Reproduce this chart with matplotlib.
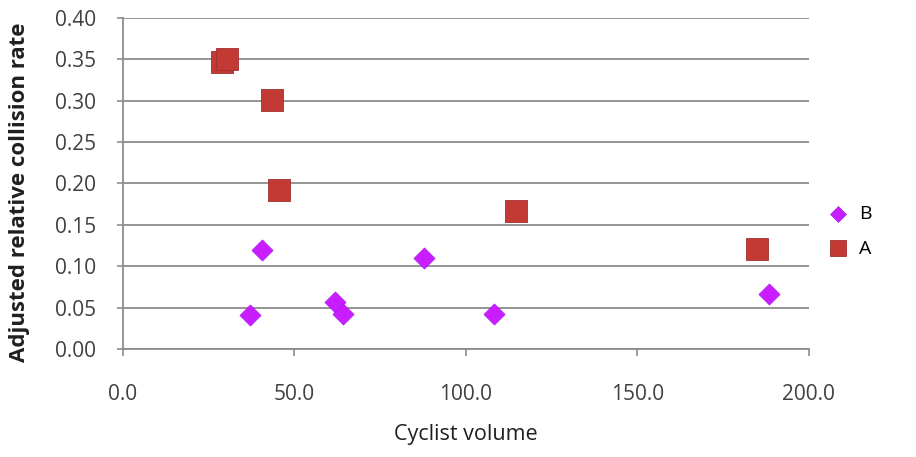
import matplotlib
matplotlib.use("Agg")
import matplotlib.pyplot as plt

# Series A (red squares)
a_x = [29.0, 30.5, 43.4, 45.5, 114.7, 185.0]
a_y = [0.347, 0.350, 0.301, 0.192, 0.167, 0.121]
# Series B (purple diamonds)
b_x = [37.0, 40.5, 61.8, 64.2, 87.8, 108.2, 188.4]
b_y = [0.041, 0.120, 0.057, 0.043, 0.110, 0.042, 0.066]

x_ticks = [0, 50, 100, 150, 200]
y_ticks = [0.00, 0.05, 0.10, 0.15, 0.20, 0.25, 0.30, 0.35, 0.40]

plt.rcParams['font.family'] = ['Open Sans', 'DejaVu Sans']

fig = plt.figure(figsize=(9.16, 4.57), dpi=100)
ax = fig.add_axes([0.134, 0.236, 0.749, 0.725])

grid_c = '#8c8c8c'
ax.scatter(b_x, b_y, marker='D', s=115, color='#C81EFF', edgecolors='#B010F0',
           linewidths=0.5, label='B', zorder=3)
ax.scatter(a_x, a_y, marker='s', s=250, color='#C23A33', edgecolors='#A03030',
           linewidths=0.6, label='A', zorder=3)

ax.set_xlim(0, 200)
ax.set_ylim(0, 0.40)
ax.set_xticks(x_ticks)
ax.set_yticks(y_ticks)
ax.set_xticklabels([f"{v:.1f}" for v in x_ticks])
ax.set_yticklabels([f"{v:.2f}" for v in y_ticks])
ax.yaxis.grid(True, color=grid_c, linewidth=1.3, zorder=0)
ax.set_axisbelow(True)

for s in ['top', 'right']:
    ax.spines[s].set_visible(False)
for s in ['left', 'bottom']:
    ax.spines[s].set_color(grid_c)
    ax.spines[s].set_linewidth(1.3)

ax.tick_params(axis='x', direction='out', length=5, width=1.2, color=grid_c,
               pad=20, labelsize=15, labelcolor='#404040')
ax.tick_params(axis='y', direction='out', length=4, width=1.2, color=grid_c,
               pad=15, labelsize=15, labelcolor='#404040')

ax.set_xlabel('Cyclist volume', fontsize=15.5, color='#202020', labelpad=14)
ax.set_ylabel('Adjusted relative collision rate', fontsize=16, fontweight='bold',
              color='#202020', labelpad=14)
ax.yaxis.set_label_coords(-0.135, 0.475)

fig.legend(loc='center left', bbox_to_anchor=(0.885, 0.494), frameon=False,
           fontsize=14, labelspacing=0.85, handletextpad=0.1, borderaxespad=0,
           scatterpoints=1, markerscale=0.75)

fig.savefig('out.png', dpi=100)
